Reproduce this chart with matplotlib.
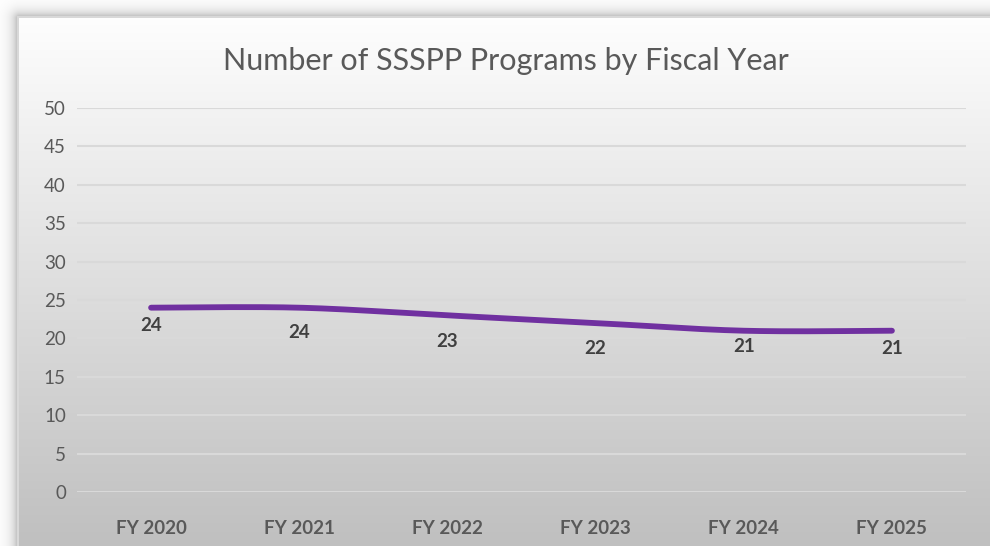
import numpy as np
import matplotlib
matplotlib.use("Agg")
import matplotlib.pyplot as plt

# programs per fiscal year
years = ["FY 2020", "FY 2021", "FY 2022", "FY 2023", "FY 2024", "FY 2025"]
programs = [24, 24, 23, 22, 21, 21]

# how far (points) each data label sits below its point
label_drop = [13, 18, 19, 18, 11.5, 12.5]

plt.rcParams["font.family"] = ["Lato", "DejaVu Sans"]

W, H = 990, 546
fig = plt.figure(figsize=(W / 100, H / 100), dpi=100)


def smooth(xs, ys, n=40):
    # excel-style smoothed line: cubic bezier with catmull-rom handles
    pts = np.column_stack([xs, ys]).astype(float)
    p = np.vstack([pts[0], pts, pts[-1]])
    t = np.linspace(0, 1, n)[:, None]
    segs = []
    for i in range(1, len(p) - 2):
        p0, p1, p2, p3 = p[i - 1], p[i], p[i + 1], p[i + 2]
        c1 = p1 + (p2 - p0) / 6
        c2 = p2 - (p3 - p1) / 6
        segs.append((1 - t) ** 3 * p1 + 3 * (1 - t) ** 2 * t * c1
                    + 3 * (1 - t) * t ** 2 * c2 + t ** 3 * p2)
    return np.vstack(segs)


# background: white page, soft shadow, chart area with vertical gradient
x0, y0 = 19, 18
yy, xx = np.mgrid[0:H, 0:W].astype(float)
dx = np.clip(x0 - xx, 0, None)
dy = np.clip(y0 - yy, 0, None)
d = np.hypot(dx, dy)
bg = 1 - 0.36 * np.exp(-d / 6.0)
inside = (xx >= x0) & (yy >= y0)
grad = 0.995 - (0.995 - 0.75) * (yy - y0) / (H - y0)
bg = np.where(inside, grad, bg)
# thin light rim round the chart area
rim = ((xx >= x0 - 2) & (xx < x0) & (yy >= y0 - 2)) | ((yy >= y0 - 2) & (yy < y0) & (xx >= x0 - 2))
bg = np.where(rim, np.maximum(bg, 0.85), bg)

bax = fig.add_axes([0, 0, 1, 1], zorder=0)
bax.imshow(np.dstack([bg] * 3), aspect="auto", extent=[0, W, H, 0], interpolation="bilinear")
bax.axis("off")

ax = fig.add_axes([77 / W, 1 - 492 / H, (966 - 77) / W, (492 - 108) / H], zorder=1)
ax.patch.set_alpha(0)
x = np.arange(len(years))
ax.set_xlim(-0.5, len(years) - 0.5)
ax.set_ylim(0, 50)
ax.set_yticks(range(0, 51, 5))
ax.set_xticks(x, years)
ax.grid(axis="y", color="#d9d9d9", linewidth=1.5)
ax.set_axisbelow(True)
for s in ax.spines.values():
    s.set_visible(False)
ax.tick_params(length=0)
ax.tick_params(axis="y", pad=8, labelsize=13.5, labelcolor="#595959")
ax.tick_params(axis="x", pad=20, labelsize=13.5, labelcolor="#595959")
for lbl in ax.get_xticklabels():
    lbl.set_fontweight("bold")

curve = smooth(x, programs)
ax.plot(curve[:, 0], curve[:, 1], color="#7030a0", linewidth=4.2,
        solid_capstyle="round", zorder=3, clip_on=False)

for xi, v, off in zip(x, programs, label_drop):
    ax.annotate(str(v), (xi, v), xytext=(0, -off), textcoords="offset points",
                ha="center", va="center", fontsize=13.5, fontweight="bold",
                color="#404040", zorder=4)

fig.text(506 / W, 1 - 61 / H, "Number of SSSPP Programs by Fiscal Year",
         ha="center", va="center", fontsize=22, color="#595959")

fig.savefig("out.png", dpi=100)
